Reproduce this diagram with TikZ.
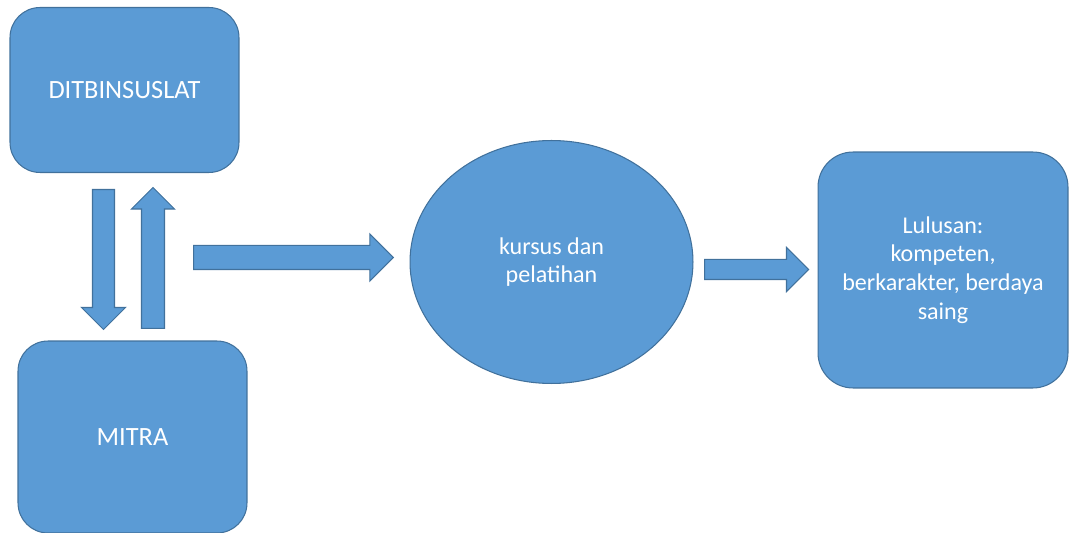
\documentclass[tikz,border=0pt]{standalone}
\usepackage{fontspec}
\setmainfont{Carlito}
\usetikzlibrary{shapes.geometric,shapes.arrows}
\definecolor{boxblue}{HTML}{5B9BD5}
\definecolor{boxline}{HTML}{41719C}

\begin{document}
\begin{tikzpicture}[x=0.02cm, y=-0.02cm,
  block/.style={draw=boxline, fill=boxblue, line width=0.6pt, text=white, align=center},
  bigtext/.style={font=\fontsize{15}{18}\selectfont},
  smalltext/.style={font=\fontsize{13.7}{16.4}\selectfont},
  blockarrow/.style={draw=boxline, fill=boxblue, line width=0.6pt, shape=single arrow, single arrow head indent=0pt, anchor=tail}]

  \useasboundingbox (0,0) rectangle (1072,533);

  % Left column
  \node[block, bigtext, rounded corners=0.6cm, minimum width=4.58cm, minimum height=3.3cm] (dit) at (124.5,90) {DITBINSUSLAT};
  \node[block, bigtext, rounded corners=0.6cm, minimum width=4.58cm, minimum height=3.84cm] (mitra) at (132.5,437) {MITRA};

  % Middle and right
  \node[block, smalltext, ellipse, minimum width=5.66cm, minimum height=4.86cm] (kursus) at (551.5,262) {kursus dan\\pelatihan};
  \node[block, smalltext, rounded corners=0.7cm, minimum width=5cm, minimum height=4.72cm] (lulusan) at (943,270) {Lulusan:\\kompeten,\\berkarakter, berdaya\\saing};

  % Block arrows
  \node[blockarrow, rotate=-90, inner sep=0.21cm, single arrow head extend=0.22cm, minimum width=0.86cm, minimum height=2.8cm] (turun) at (103.5,189) {};
  \node[blockarrow, rotate=90, inner sep=0.22cm, single arrow head extend=0.2cm, minimum width=0.84cm, minimum height=2.82cm] (naik) at (153,329) {};
  \node[blockarrow, inner sep=0.23cm, single arrow head extend=0.23cm, minimum width=0.92cm, minimum height=4cm] (ke kursus) at (193,257.5) {};
  \node[blockarrow, inner sep=0.19cm, single arrow head extend=0.24cm, minimum width=0.86cm, minimum height=2.08cm] (ke lulusan) at (704,269.5) {};

\end{tikzpicture}
\end{document}
